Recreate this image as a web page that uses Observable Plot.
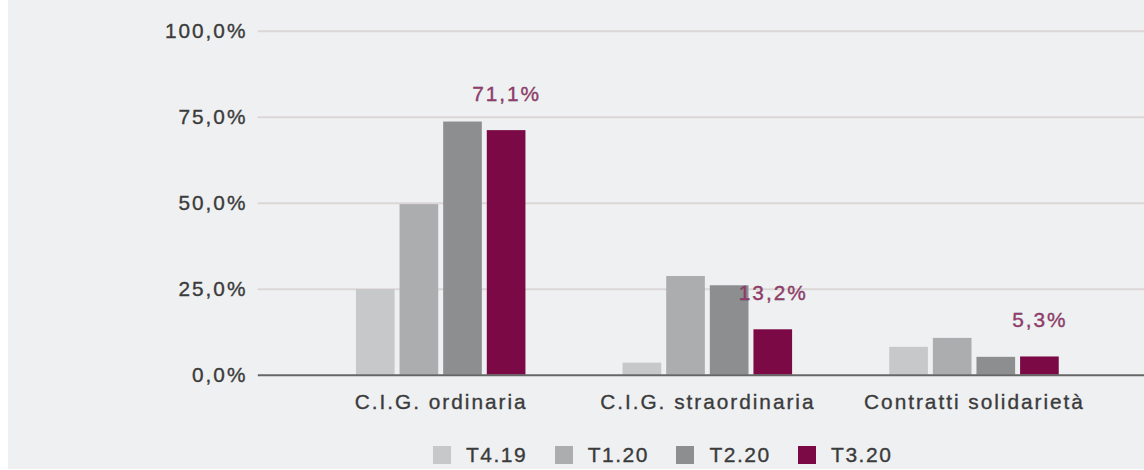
<!DOCTYPE html>
<html>
<head>
<meta charset="utf-8">
<script src="https://cdn.jsdelivr.net/npm/d3@7"></script>
<script src="https://cdn.jsdelivr.net/npm/@observablehq/plot@0.6"></script>
<style>
  html, body { margin: 0; padding: 0; background: #ffffff; overflow: hidden; }
  #frame {
    position: absolute; left: 8px; top: 0; width: 1136px; height: 469px;
    background: #eff0f2; overflow: hidden;
    font-family: "Liberation Sans", Arial, sans-serif;
  }
  #frame svg { position: absolute; left: 0; top: 0; }
  #frame svg text { letter-spacing: 2px; stroke: currentColor; stroke-width: 0.35px; }
  #legend {
    position: absolute; left: 425px; top: 445px; height: 20px;
    display: flex; align-items: center;
    font-size: 21px; color: #3b3b3b; letter-spacing: 1.5px;
    -webkit-text-stroke: 0.35px #3b3b3b;
  }
  #legend .item { display: flex; align-items: center; margin-right: 27.5px; }
  #legend .sw { width: 18px; height: 18px; margin-right: 15px; }
</style>
</head>
<body>
<div id="frame"><div id="legend"></div></div>
<script>
// Categories and series
const groups = ["C.I.G. ordinaria", "C.I.G. straordinaria", "Contratti solidarietà"];
const series = ["T4.19", "T1.20", "T2.20", "T3.20"];

// Share of hours per quarter (%), one array per series, in group order
const t419 = [24.9, 3.5, 8.1];
const t120 = [49.6, 28.7, 10.7];
const t220 = [73.6, 26.0, 5.2];
const t320 = [71.1, 13.2, 5.3];

// Y tick values
const yTicks = [0, 25, 50, 75, 100];

// Series colours
const colors = ["#c7c8c9", "#abadae", "#8c8e90", "#7a0945"];

const values = [t419, t120, t220, t320];
const rows = groups.flatMap((g, i) =>
  series.map((s, j) => ({group: g, series: s, value: values[j][i]}))
);

const it = d3.formatLocale({decimal: ",", thousands: ".", grouping: [3], currency: ["", "€"]});
const fmt1 = it.format(".1f");
const pct = v => fmt1(v) + "%";

// Shared frame so the stacked layers line up on the same y scale
const base = {
  width: 1146,
  height: 440,
  marginLeft: 252,
  marginRight: 0,
  marginTop: 31,
  marginBottom: 62,
  style: {
    background: "transparent",
    fontFamily: "'Liberation Sans', Arial, sans-serif",
    fontSize: "21px",
    color: "#3b3b3b"
  },
  y: {domain: [0, 100], axis: null}
};

// Layer 1: grid lines and y tick labels across the whole frame
const gridLayer = Plot.plot({
  ...base,
  marks: [
    Plot.ruleY(yTicks.filter(d => d > 0), {stroke: "#dcd7d7", strokeWidth: 2}),
    Plot.text(yTicks, {
      y: d => d, frameAnchor: "left", dx: -11,
      textAnchor: "end", text: d => pct(d), fill: "currentColor"
    })
  ]
});

// Layer 2: grouped bars, value labels and category axis
const barLayer = Plot.plot({
  ...base,
  marginRight: -12,
  fx: {
    domain: groups, axis: "bottom", label: null,
    paddingInner: 0, paddingOuter: 0.1805,
    tickSize: 0, tickPadding: 19
  },
  x: {domain: series, paddingInner: 0.115, paddingOuter: 1.1, axis: null},
  color: {domain: series, range: colors},
  marks: [
    Plot.barY(rows, {fx: "group", x: "series", y: "value", fill: "series"}),
    Plot.text(rows.filter(d => d.series === "T3.20"), {
      fx: "group", x: "series", y: "value", dy: -37,
      text: d => pct(d.value), fill: "#97396c", stroke: "#97396c"
    })
  ]
});

// Layer 3: baseline on top of the bars
const baseLayer = Plot.plot({
  ...base,
  marks: [Plot.ruleY([0], {stroke: "#666", strokeWidth: 2})]
});

const frame = document.getElementById("frame");
const legendNode = document.getElementById("legend");
[gridLayer, barLayer, baseLayer].forEach(svg => frame.insertBefore(svg, legendNode));

// legend below the chart
const color = barLayer.scale("color");
const legend = d3.select("#legend");
series.forEach(s => {
  const item = legend.append("div").attr("class", "item");
  item.append("div").attr("class", "sw").style("background", color.apply(s));
  item.append("span").text(s);
});
</script>
</body>
</html>
